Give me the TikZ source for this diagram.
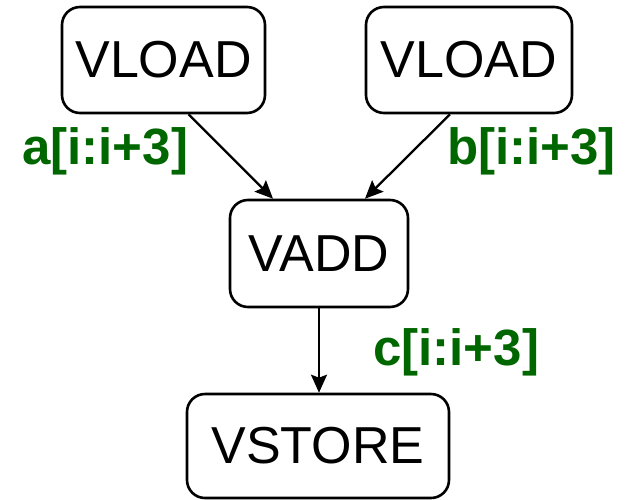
\documentclass[tikz,border=0pt]{standalone}
\usepackage{fontspec}
\setmainfont{Liberation Sans}
\usepackage{tikz}
\usetikzlibrary{positioning,arrows.meta}
\usepackage{xcolor}
\definecolor{cgreen}{RGB}{0,102,0}

\begin{document}
\begin{tikzpicture}[x=1pt, y=-1pt,
    >={Stealth[length=18pt, width=16pt, inset=3pt]},
    op/.style={draw, rounded corners=18pt, line width=2.6pt, font=\fontsize{52}{52}\selectfont,
               minimum height=106pt, inner sep=0pt},
    lbl/.style={text=cgreen, font=\fontsize{51}{51}\selectfont\bfseries, inner sep=0pt, anchor=base west},
    flow/.style={->, line width=2.3pt},
  ]
  \useasboundingbox (0,0) rectangle (635,499);
  % loads
  \node[op, minimum width=203pt] (loada) at (163.5,60) {VLOAD};
  \node[op, minimum width=206pt] (loadb) at (469,60) {VLOAD};
  % add
  \node[op, minimum width=178pt, minimum height=107pt] (vadd) at (319,253.5) {VADD};
  % store
  \node[op, minimum width=262pt, minimum height=104pt] (vstore) at (318,446) {VSTORE};

  \draw[flow] ([xshift=25pt]loada.south) -- ([xshift=-46pt]vadd.north);
  \draw[flow] ([xshift=-19pt]loadb.south) -- ([xshift=46pt]vadd.north);
  \draw[flow] (vadd.south) -- (vadd.south |- vstore.north);

  \node[lbl] (la) at (22,164) {a[i:i+3]};
  \node[lbl] (lb) at (447,164) {b[i:i+3]};
  \node[lbl] (lc) at (373,365) {c[i:i+3]};
\end{tikzpicture}
\end{document}
